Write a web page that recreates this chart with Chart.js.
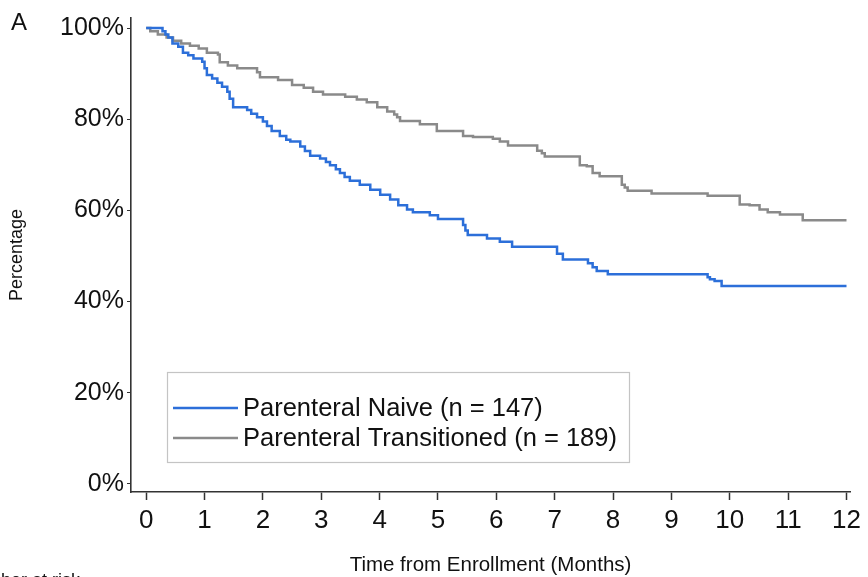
<!DOCTYPE html>
<html>
<head>
<meta charset="utf-8">
<script src="https://cdn.jsdelivr.net/npm/chart.js@4"></script>
<style>
  html, body { margin: 0; padding: 0; background: #fff; }
</style>
</head>
<body>
<canvas id="kmChart" width="868" height="577"></canvas>
<script>
// Kaplan-Meier steps (months, % event-free)
const naiveTimes = [0, 0.28, 0.33, 0.38, 0.45, 0.55, 0.63, 0.72, 0.81, 0.96, 1.0, 1.04, 1.13, 1.22, 1.3, 1.39, 1.43, 1.49, 1.73, 1.8, 1.9, 2.0, 2.07, 2.15, 2.29, 2.4, 2.47, 2.64, 2.72, 2.81, 2.98, 3.08, 3.15, 3.25, 3.32, 3.4, 3.49, 3.66, 3.84, 4.01, 4.18, 4.32, 4.47, 4.57, 4.86, 5.0, 5.43, 5.47, 5.51, 5.84, 6.06, 6.27, 7.04, 7.14, 7.57, 7.65, 7.72, 7.91, 9.62, 9.66, 9.74, 9.86, 12.0];
const naiveSurv  = [100, 99.3, 98.6, 97.9, 96.6, 95.9, 94.6, 94.0, 93.3, 92.6, 91.2, 89.7, 88.9, 88.0, 87.1, 86.0, 84.5, 82.6, 82.0, 81.2, 80.4, 79.5, 78.5, 77.4, 76.3, 75.5, 75.1, 74.0, 73.0, 72.0, 71.4, 70.6, 69.9, 69.0, 68.2, 67.3, 66.5, 65.6, 64.5, 63.4, 62.4, 61.1, 60.2, 59.6, 58.9, 58.1, 56.8, 55.6, 54.6, 53.8, 53.1, 52.0, 50.5, 49.2, 48.4, 47.5, 46.7, 46.0, 45.3, 44.9, 44.5, 43.4, 43.4];

const transTimes = [0, 0.07, 0.2, 0.35, 0.46, 0.6, 0.75, 0.9, 1.04, 1.23, 1.26, 1.4, 1.56, 1.9, 1.95, 2.26, 2.5, 2.7, 2.86, 3.03, 3.41, 3.61, 3.78, 3.96, 4.13, 4.25, 4.3, 4.35, 4.69, 4.98, 5.43, 5.6, 5.94, 6.06, 6.2, 6.7, 6.78, 6.83, 7.43, 7.55, 7.65, 7.77, 8.15, 8.2, 8.25, 8.66, 9.62, 10.17, 10.34, 10.51, 10.65, 10.86, 11.25, 12.0];
const transSurv  = [100, 99.3, 98.6, 97.9, 97.2, 96.6, 96.1, 95.5, 94.6, 94.2, 92.5, 91.8, 91.2, 90.3, 89.2, 88.6, 87.5, 86.9, 86.0, 85.4, 84.9, 84.3, 83.7, 82.6, 81.7, 81.0, 80.4, 79.6, 78.9, 77.4, 76.3, 76.1, 75.7, 75.1, 74.2, 73.1, 72.5, 71.8, 69.9, 69.7, 68.2, 67.5, 65.6, 65.0, 64.3, 63.7, 63.2, 61.3, 61.1, 60.2, 59.6, 59.1, 57.8, 57.8];

const xTicks = [0, 1, 2, 3, 4, 5, 6, 7, 8, 9, 10, 11, 12];
const yTicks = [0, 20, 40, 60, 80, 100];
const seriesLabels = ['Parenteral Naive (n = 147)', 'Parenteral Transitioned (n = 189)'];
const seriesColors = ['#2c6fd9', '#8a8a8a'];

function hasFont(name) {
    const c = document.createElement('canvas').getContext('2d');
    c.font = '40px monospace';
    const a = c.measureText('0123456789 Time abc').width;
    c.font = `40px "${name}", monospace`;
    const b = c.measureText('0123456789 Time abc').width;
    return a !== b;
}
const narrowOk = hasFont('Liberation Sans Narrow');
const sansFont = '"Liberation Sans", Arial, sans-serif';
const narrowFont = narrowOk ? '"Liberation Sans Narrow", "Liberation Sans", sans-serif' : sansFont;

const axisColor = '#333';

const kmLegend = {
    id: 'kmLegend',
    afterDraw(chart) {
        const ctx = chart.ctx;
        ctx.save();
        // legend box
        ctx.strokeStyle = '#c4c4c4';
        ctx.lineWidth = 1.2;
        ctx.strokeRect(167.5, 372.5, 462, 90);
        ctx.font = '25.5px ' + sansFont;
        ctx.fillStyle = '#111';
        ctx.textBaseline = 'middle';
        ctx.textAlign = 'left';
        chart.data.datasets.forEach((ds, i) => {
            const y = 408 + i * 30;
            ctx.strokeStyle = ds.borderColor;
            ctx.lineWidth = 2.5;
            ctx.beginPath();
            ctx.moveTo(173, y);
            ctx.lineTo(238, y);
            ctx.stroke();
            ctx.fillText(ds.label, 243, y + 1);
        });
        // panel letter
        ctx.font = '24px ' + sansFont;
        ctx.fillText('A', 11, 23);
        // cut-off caption at the bottom edge
        ctx.font = (narrowOk ? '21px ' : '18px ') + narrowFont;
        ctx.textAlign = 'right';
        ctx.textBaseline = 'alphabetic';
        ctx.fillText('Number at risk', 80, 586);
        ctx.restore();
    }
};

new Chart(document.getElementById('kmChart').getContext('2d'), {
    type: 'line',
    data: {
        datasets: [
            {
                label: seriesLabels[0],
                data: naiveTimes.map((t, i) => ({ x: t, y: naiveSurv[i] })),
                borderColor: seriesColors[0],
                borderWidth: 2.5,
                stepped: true,
                pointRadius: 0,
                fill: false,
                order: 0
            },
            {
                label: seriesLabels[1],
                data: transTimes.map((t, i) => ({ x: t, y: transSurv[i] })),
                borderColor: seriesColors[1],
                borderWidth: 2.5,
                stepped: true,
                pointRadius: 0,
                fill: false,
                order: 1
            }
        ]
    },
    options: {
        responsive: false,
        animation: false,
        devicePixelRatio: 1,
        layout: { padding: { top: 13, right: 18, left: 0, bottom: 0 } },
        plugins: {
            legend: { display: false },
            tooltip: { enabled: false }
        },
        scales: {
            x: {
                type: 'linear',
                min: -0.26,
                max: 12.06,
                afterBuildTicks: scale => { scale.ticks = xTicks.map(v => ({ value: v })); },
                afterFit: scale => { scale.height = 85; },
                grid: { display: true, drawOnChartArea: false, drawTicks: true, tickLength: 8, tickColor: axisColor, tickWidth: 1.5 },
                border: { display: true, color: axisColor, width: 1.6 },
                ticks: {
                    autoSkip: false, maxRotation: 0, padding: 5, color: '#111',
                    font: { family: narrowFont, size: narrowOk ? 29 : 26 }
                },
                title: {
                    display: true, text: 'Time from Enrollment (Months)', color: '#111',
                    font: { family: narrowFont, size: narrowOk ? 23 : 20.5, lineHeight: 1.1 },
                    padding: { top: 0, bottom: 0 }
                }
            },
            y: {
                min: -1.8,
                max: 102.2,
                afterBuildTicks: scale => { scale.ticks = yTicks.map(v => ({ value: v })); },
                afterFit: scale => { scale.width = 131; },
                grid: { display: true, drawOnChartArea: false, drawTicks: true, tickLength: 4, tickColor: axisColor, tickWidth: 1 },
                border: { display: true, color: axisColor, width: 1.6 },
                ticks: {
                    padding: 3, color: '#111',
                    font: { family: sansFont, size: 25 },
                    callback: v => v + '%'
                },
                title: {
                    display: true, text: 'Percentage', color: '#111',
                    font: { family: sansFont, size: 18 },
                    padding: { top: 6, bottom: 0 }
                }
            }
        }
    },
    plugins: [kmLegend]
});
</script>
</body>
</html>
